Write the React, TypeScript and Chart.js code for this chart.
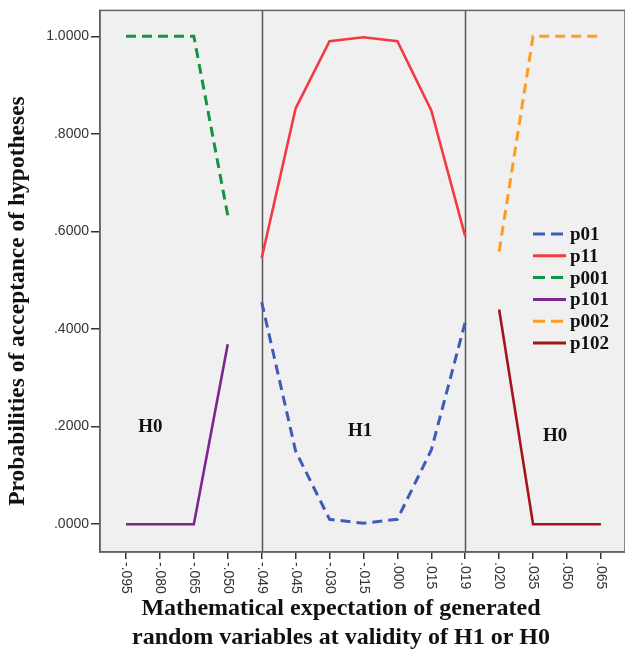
import React, { useEffect, useRef } from "react";
import { Chart, registerables } from "chart.js";

Chart.register(...registerables);

const xLabels = ["-.095", "-.080", "-.065", "-.050", "-.049", "-.045", "-.030", "-.015", ".000", ".015", ".019", ".020", ".035", ".050", ".065"];
const yTickValues = [0, 0.2, 0.4, 0.6, 0.8, 1.0];

const p01 = [null, null, null, null, 0.455, 0.15, 0.01, 0.002, 0.01, 0.152, 0.414, null, null, null, null];
const p11 = [null, null, null, null, 0.545, 0.852, 0.99, 0.998, 0.99, 0.848, 0.59, null, null, null, null];
const p001 = [1.0, 1.0, 1.0, 0.633, null, null, null, null, null, null, null, null, null, null, null];
const p101 = [0, 0, 0, 0.369, null, null, null, null, null, null, null, null, null, null, null];
const p002 = [null, null, null, null, null, null, null, null, null, null, null, 0.559, 1.0, 1.0, 1.0];
const p102 = [null, null, null, null, null, null, null, null, null, null, null, 0.44, 0, 0, 0];

const dividers = [4, 10];
const regionLabels = [
  { text: "H0", x: 0.72, y: 0.2 },
  { text: "H1", x: 6.9, y: 0.19 },
  { text: "H0", x: 12.65, y: 0.18 },
];

const seriesDefs = [
  { label: "p01", data: p01, color: "#3d5cb8", dashed: true },
  { label: "p11", data: p11, color: "#f23a40", dashed: false },
  { label: "p001", data: p001, color: "#139445", dashed: true },
  { label: "p101", data: p101, color: "#7d2590", dashed: false },
  { label: "p002", data: p002, color: "#ff9c1f", dashed: true },
  { label: "p102", data: p102, color: "#a5141c", dashed: false },
];

const SERIF = "'Liberation Serif', 'Times New Roman', serif";
const SANS = "'Liberation Sans', Arial, sans-serif";

export default function App() {
  const ref = useRef<HTMLCanvasElement | null>(null);

  useEffect(() => {
    if (!ref.current) return;

    const datasets = seriesDefs.map((s) => ({
      label: s.label,
      data: s.data
        .map((v, i) => (v === null ? null : { x: i, y: v }))
        .filter((p) => p !== null) as { x: number; y: number }[],
      borderColor: s.color,
      backgroundColor: s.color,
      borderWidth: s.dashed ? 3 : 2.6,
      borderDash: s.dashed ? [10, 6] : [],
      pointRadius: 0,
      tension: 0,
      fill: false,
    }));

    const decor = {
      id: "decor",
      beforeDraw(chart: any) {
        const { ctx, chartArea: a } = chart;
        ctx.save();
        ctx.fillStyle = "#f0f0f0";
        ctx.fillRect(a.left, a.top, a.right - a.left, a.bottom - a.top);
        ctx.restore();
      },
      beforeDatasetsDraw(chart: any) {
        const { ctx, chartArea: a, scales } = chart;
        ctx.save();
        ctx.strokeStyle = "#555";
        ctx.lineWidth = 1.5;
        dividers.forEach((d) => {
          const x = Math.round(scales.x.getPixelForValue(d)) + 0.5;
          ctx.beginPath();
          ctx.moveTo(x, a.top);
          ctx.lineTo(x, a.bottom);
          ctx.stroke();
        });
        ctx.restore();
      },
      afterDraw(chart: any) {
        const { ctx, chartArea: a, scales } = chart;
        ctx.save();
        // border
        ctx.strokeStyle = "#666";
        ctx.lineWidth = 1.5;
        ctx.strokeRect(a.left, a.top, a.right - a.left, a.bottom - a.top);

        // x tick labels rotated clockwise
        ctx.fillStyle = "#333";
        ctx.font = `14px ${SANS}`;
        xLabels.forEach((lab, i) => {
          const x = scales.x.getPixelForValue(i);
          ctx.save();
          ctx.translate(x, a.bottom + 10);
          ctx.rotate(Math.PI / 2);
          ctx.textAlign = "left";
          ctx.textBaseline = "middle";
          ctx.fillText(lab, 0, 0);
          ctx.restore();
        });

        // region labels
        ctx.fillStyle = "#111";
        ctx.font = `bold 19px ${SERIF}`;
        ctx.textAlign = "center";
        ctx.textBaseline = "middle";
        regionLabels.forEach((r) => {
          ctx.fillText(r.text, scales.x.getPixelForValue(r.x), scales.y.getPixelForValue(r.y));
        });

        // legend
        const lx = 533;
        const ly = 234;
        const rowH = 21.8;
        seriesDefs.forEach((s, i) => {
          const y = ly + i * rowH;
          ctx.save();
          ctx.strokeStyle = s.color;
          ctx.lineWidth = 3;
          ctx.setLineDash(s.dashed ? [12, 6] : []);
          ctx.beginPath();
          ctx.moveTo(lx, y);
          ctx.lineTo(lx + 33, y);
          ctx.stroke();
          ctx.restore();
          ctx.fillStyle = "#111";
          ctx.font = `bold 19px ${SERIF}`;
          ctx.textAlign = "left";
          ctx.textBaseline = "middle";
          ctx.fillText(s.label, lx + 37, y + 1);
        });

        // y title
        ctx.save();
        ctx.translate(18, 301);
        ctx.rotate(-Math.PI / 2);
        ctx.fillStyle = "#111";
        ctx.font = `bold 23.5px ${SERIF}`;
        ctx.textAlign = "center";
        ctx.textBaseline = "middle";
        ctx.fillText("Probabilities of acceptance of hypotheses", 0, 0);
        ctx.restore();

        // x title
        ctx.fillStyle = "#111";
        ctx.font = `bold 24px ${SERIF}`;
        ctx.textAlign = "center";
        ctx.textBaseline = "middle";
        ctx.fillText("Mathematical expectation of generated", 341, 609);
        ctx.fillText("random variables at validity of H1 or H0", 341, 638);
        ctx.restore();
      },
    };

    const chart = new Chart(ref.current, {
      type: "line",
      data: { datasets },
      options: {
        animation: false,
        responsive: false,
        parsing: true,
        layout: { padding: { top: 10, right: 0, left: 0, bottom: 0 } },
        plugins: {
          legend: { display: false },
          tooltip: { enabled: false },
        },
        scales: {
          x: {
            type: "linear",
            min: -0.766,
            max: 14.71,
            afterBuildTicks: (scale: any) => {
              scale.ticks = xLabels.map((_, i) => ({ value: i }));
            },
            afterFit: (scale: any) => {
              scale.height = 111;
            },
            ticks: { display: false },
            grid: {
              drawOnChartArea: false,
              drawTicks: true,
              tickLength: 7,
              color: "#333",
              lineWidth: 1.5,
            },
            border: { display: true, color: "#555", width: 1.5 },
          },
          y: {
            type: "linear",
            min: -0.057,
            max: 1.053,
            afterBuildTicks: (scale: any) => {
              scale.ticks = yTickValues.map((v) => ({ value: v }));
            },
            afterFit: (scale: any) => {
              scale.width = 100;
            },
            ticks: {
              color: "#333",
              padding: 2,
              font: { family: SANS, size: 14 },
              callback: (v: any) => {
                const n = Number(v);
                return n === 1 ? "1.0000" : n.toFixed(4).replace(/^0/, "");
              },
            },
            grid: {
              drawOnChartArea: false,
              drawTicks: true,
              tickLength: 9,
              color: "#333",
              lineWidth: 1.5,
            },
            border: { display: true, color: "#555", width: 1.5 },
          },
        },
      },
      plugins: [decor],
    });

    return () => chart.destroy();
  }, []);

  return (
    <div style={{ position: "absolute", left: 0, top: 0, width: 625, height: 663, background: "#fff" }}>
      <canvas ref={ref} width={625} height={663} style={{ display: "block" }} />
    </div>
  );
}
